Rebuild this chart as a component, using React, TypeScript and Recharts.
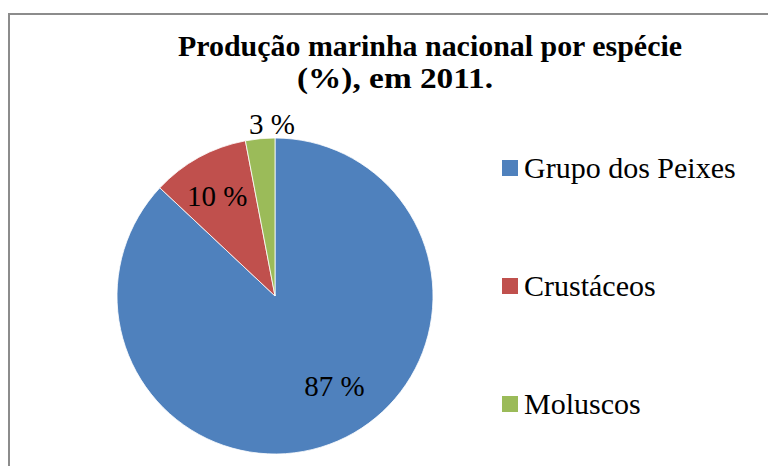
import { Legend, Pie, PieChart, Cell } from "recharts";

const categories = ["Grupo dos Peixes", "Crustáceos", "Moluscos"];
const shares = [87, 10, 3];
const colors = ["#4F81BD", "#C0504D", "#9BBB59"];
const titleLines = ["Produção marinha nacional por espécie", "(%), em 2011."];

const data = categories.map((name, i) => ({ name, value: shares[i] }));

// excel "best fit" label spots: radius factor + angle nudge per slice
const labelSpots = [
  { r: 0.685, da: 9.9 },
  { r: 0.73, da: 1.3 },
  { r: 1.085, da: -4.4 },
];

const RAD = Math.PI / 180;
const serif = '"Liberation Serif", "Times New Roman", serif';

function renderLabel(props: any) {
  const { cx, cy, midAngle, outerRadius, index, value } = props;
  const spot = labelSpots[index];
  const a = (midAngle + spot.da) * RAD;
  const rr = outerRadius * spot.r;
  const x = cx + rr * Math.cos(a);
  const y = cy - rr * Math.sin(a);
  return (
    <text
      x={x}
      y={y + 29 * 0.34}
      textAnchor="middle"
      fontFamily={serif}
      fontSize={29}
      fill="#000"
    >
      {`${value} %`}
    </text>
  );
}

function LegendBox() {
  return (
    <div style={{ fontFamily: serif, fontSize: 30, color: "#000" }}>
      {categories.map((c, i) => (
        <div
          key={c}
          style={{
            display: "flex",
            alignItems: "center",
            height: 33,
            marginBottom: i < categories.length - 1 ? 85 : 0,
            whiteSpace: "nowrap",
          }}
        >
          <span
            style={{
              display: "inline-block",
              width: 16,
              height: 16,
              background: colors[i],
              marginRight: 6,
            }}
          />
          <span>{c}</span>
        </div>
      ))}
    </div>
  );
}

export default function App() {
  return (
    <div
      style={{
        position: "absolute",
        left: 0,
        top: 0,
        width: 768,
        height: 466,
        overflow: "hidden",
        background: "#fff",
      }}
    >
      <div
        style={{
          position: "absolute",
          left: 8,
          top: 13,
          width: 820,
          height: 520,
          border: "2px solid #8c8c8c",
        }}
      />
      <svg
        width={768}
        height={100}
        style={{ position: "absolute", left: 0, top: 0 }}
      >
        <text
          x={178}
          y={56}
          fontFamily={serif}
          fontWeight="bold"
          fontSize={30}
          textLength={504}
          lengthAdjust="spacingAndGlyphs"
        >
          {titleLines[0]}
        </text>
        <text
          x={297}
          y={88}
          fontFamily={serif}
          fontWeight="bold"
          fontSize={30}
          textLength={196}
          lengthAdjust="spacingAndGlyphs"
        >
          {titleLines[1]}
        </text>
      </svg>
      <div style={{ position: "absolute", left: 0, top: 0 }}>
        <PieChart width={768} height={466} margin={{ top: 0, right: 0, bottom: 0, left: 0 }}>
          <Pie
            data={data}
            dataKey="value"
            nameKey="name"
            cx={275}
            cy={296}
            outerRadius={158}
            startAngle={90}
            endAngle={-270}
            stroke="#ffffff"
            strokeWidth={0.8}
            label={renderLabel}
            labelLine={false}
            isAnimationActive={false}
          >
            {data.map((d, i) => (
              <Cell key={d.name} fill={colors[i]} />
            ))}
          </Pie>
          <Legend
            content={() => <LegendBox />}
            wrapperStyle={{ position: "absolute", left: 502, top: 151, width: "auto" }}
          />
        </PieChart>
      </div>
    </div>
  );
}
